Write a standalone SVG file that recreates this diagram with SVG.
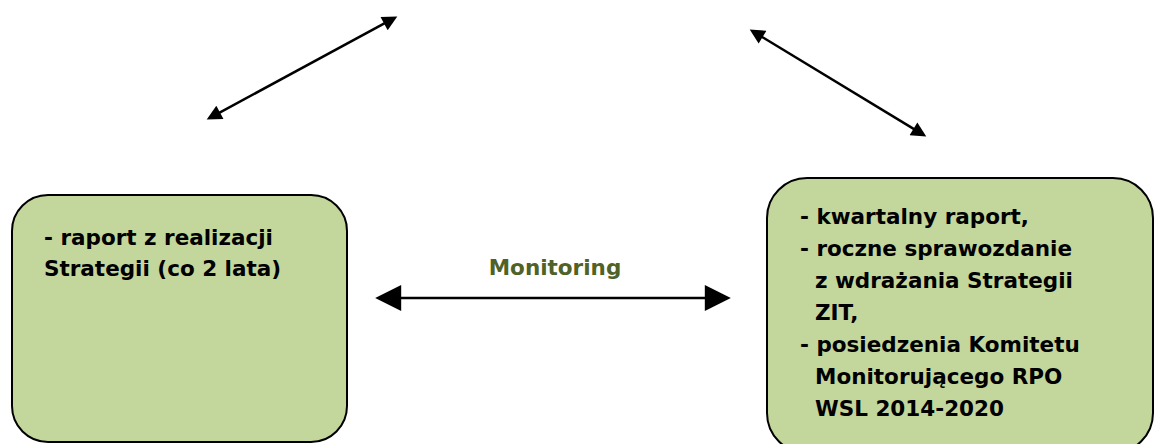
<svg xmlns="http://www.w3.org/2000/svg" width="1154" height="444" viewBox="0 0 1154 444">
<style>
.box{fill:#C3D69B;stroke:#000;stroke-width:2}
.t{font-family:"DejaVu Sans","Liberation Sans",sans-serif;font-weight:bold;font-size:21.5px;fill:#000}
.lbl{font-family:"DejaVu Sans","Liberation Sans",sans-serif;font-weight:bold;font-size:21.5px;fill:#4F6228}
.con{stroke:#000;fill:none}
</style>
<defs>
<marker id="big" viewBox="0 0 10 10" refX="7" refY="5" markerUnits="userSpaceOnUse" markerWidth="27" markerHeight="26" orient="auto-start-reverse"><path d="M0,0 L10,5 L0,10 Z" fill="#000"/></marker>
<marker id="small" viewBox="0 0 10 10" refX="7.2" refY="5" markerUnits="userSpaceOnUse" markerWidth="18" markerHeight="15" orient="auto-start-reverse"><path d="M0,0 L10,5 L0,10 Z" fill="#000"/></marker>
</defs>
<rect width="1154" height="444" fill="#fff"/>
<g id="connectors">
<line class="con" x1="210.4" y1="117.6" x2="393.6" y2="18.4" stroke-width="2.5" marker-start="url(#small)" marker-end="url(#small)"/>
<line class="con" x1="753.3" y1="31.6" x2="922.7" y2="134.4" stroke-width="2.5" marker-start="url(#small)" marker-end="url(#small)"/>
<line class="con" x1="383" y1="298" x2="723" y2="298" stroke-width="2.5" marker-start="url(#big)" marker-end="url(#big)"/>
<text class="lbl" x="555" y="275" text-anchor="middle">Monitoring</text>
</g>
<g id="node-left">
<rect class="box" x="12" y="195" width="335" height="247" rx="36" ry="36"/>
<text class="t" x="44" y="245">- raport z realizacji</text>
<text class="t" x="44" y="276">Strategii (co 2 lata)</text>
</g>
<g id="node-right">
<rect class="box" x="767" y="178" width="386" height="275" rx="40" ry="40"/>
<text class="t" x="800" y="224">- kwartalny raport,</text>
<text class="t" x="800" y="256">- roczne sprawozdanie</text>
<text class="t" x="815" y="288">z wdrażania Strategii</text>
<text class="t" x="815" y="320">ZIT,</text>
<text class="t" x="800" y="352">- posiedzenia Komitetu</text>
<text class="t" x="815" y="384">Monitorującego RPO</text>
<text class="t" x="815" y="416">WSL 2014-2020</text>
</g>
</svg>
